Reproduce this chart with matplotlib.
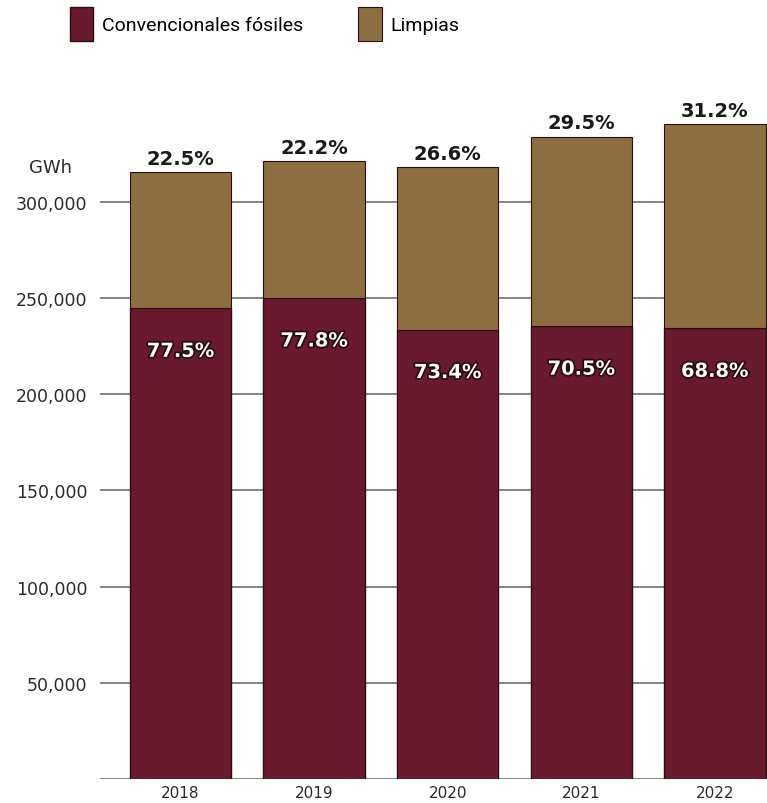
import matplotlib.pyplot as plt
import matplotlib.patheffects as pe
import numpy as np

plt.rcParams['font.family'] = ['DejaVu Sans']

years = ['2018', '2019', '2020', '2021', '2022']
total_gwh = [315600, 321300, 318200, 333800, 340400]
pct_fosiles = [77.5, 77.8, 73.4, 70.5, 68.8]
pct_limpias = [22.5, 22.2, 26.6, 29.5, 31.2]

col_fosiles = '#6a1a2f'
col_limpias = '#8d6e41'
col_edge = '#2b0d12'

fosiles = np.array(total_gwh) * np.array(pct_fosiles) / 100
limpias = np.array(total_gwh) - fosiles

fig = plt.figure(figsize=(7.67, 8.04), dpi=100)
ax = fig.add_axes([0.1304, 0.0299, 0.8696, 0.8616])

x = np.arange(len(years))
b1 = ax.bar(x, fosiles, width=0.76, color=col_fosiles, edgecolor=col_edge,
            linewidth=1.0, zorder=3, label='Convencionales fósiles')
b2 = ax.bar(x, limpias, width=0.76, bottom=fosiles, color=col_limpias,
            edgecolor=col_edge, linewidth=0.8, zorder=3, label='Limpias')

# porcentajes
for i in range(len(years)):
    ax.annotate(f'{pct_limpias[i]:.1f}%', (x[i], total_gwh[i]),
                xytext=(0, 3), textcoords='offset points', ha='center', va='bottom',
                fontsize=14, fontweight='bold', color='#1a1a1a', zorder=5)
    ax.annotate(f'{pct_fosiles[i]:.1f}%', (x[i], fosiles[i]),
                xytext=(0, -31), textcoords='offset points', ha='center', va='center',
                fontsize=14, fontweight='bold', color='white', zorder=5,
                path_effects=[pe.withStroke(linewidth=2.5, foreground='#2a0a10')])

ax.set_xlim(-0.603, 4.39)
ax.set_ylim(0, 360000)
ax.set_yticks([0, 50000, 100000, 150000, 200000, 250000, 300000])
ax.set_yticklabels(['', '50,000', '100,000', '150,000', '200,000', '250,000', '300,000'])
ax.set_xticks(x)
ax.set_xticklabels(years)
ax.yaxis.grid(True, color='#7a7a7a', linewidth=1.3, zorder=0)
ax.set_axisbelow(True)
for s in ax.spines.values():
    s.set_visible(False)
ax.tick_params(axis='both', length=0, labelsize=12.5, colors='#2a2a2a')
ax.tick_params(axis='y', pad=9)
ax.tick_params(axis='x', labelsize=11, pad=4)

fig.text(50 / 767, 1 - 168 / 804, 'GWh', ha='center', va='center',
         fontsize=13, color='#2a2a2a')

fig.legend(handles=[b1, b2], loc='center left', bbox_to_anchor=(0.068, 0.969),
           ncol=2, frameon=False, handlelength=1.2, handleheight=2.3,
           handletextpad=0.45, columnspacing=2.85,
           prop={'family': 'Roboto', 'size': 14})

fig.savefig('out.png', dpi=100)
